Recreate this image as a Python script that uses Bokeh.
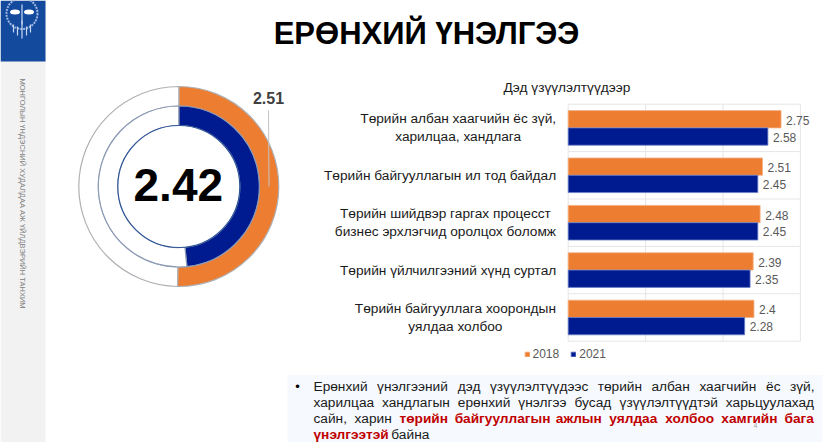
import math
from bokeh.core.properties import value
from bokeh.plotting import figure
from bokeh.models import Range1d, Label, Legend, LegendItem
from bokeh.embed import file_html
from bokeh.resources import INLINE

# ---- data ----
categories = [
    "Төрийн албан хаагчийн ёс зүй,\nхарилцаа, хандлага",
    "Төрийн байгууллагын ил тод байдал",
    "Төрийн шийдвэр гаргах процесст\nбизнес эрхлэгчид оролцох боломж",
    "Төрийн үйлчилгээний хүнд суртал",
    "Төрийн байгууллага хоорондын\nуялдаа холбоо",
]
values_2018 = [2.75, 2.51, 2.48, 2.39, 2.4]
values_2021 = [2.58, 2.45, 2.45, 2.35, 2.28]
series_names = ["2018", "2021"]
x_ticks = [0, 1, 2, 3]
overall_2018 = 2.51
overall_2021 = 2.42
scale_max = 5

title_text = "ЕРӨНХИЙ ҮНЭЛГЭЭ"
subtitle_text = "Дэд үзүүлэлтүүдээр"
sidebar_text = "МОНГОЛЫН ҮНДЭСНИЙ ХУДАЛДАА АЖ ҮЙЛДВЭРИЙН ТАНХИМ"
lines = [
    [("Ерөнхий", 0), ("үнэлгээний", 0), ("дэд", 0), ("үзүүлэлтүүдээс", 0),
     ("төрийн", 0), ("албан", 0), ("хаагчийн", 0), ("ёс", 0), ("зүй,", 0)],
    [("харилцаа", 0), ("хандлагын", 0), ("ерөнхий", 0), ("үнэлгээ", 0),
     ("бусад", 0), ("үзүүлэлтүүдтэй", 0), ("харьцуулахад", 0)],
    [("сайн,", 0), ("харин", 0), ("төрийн", 1), ("байгууллагын", 1), ("ажлын", 1),
     ("уялдаа", 1), ("холбоо", 1), ("хамгийн", 1), ("бага", 1)],
    [("үнэлгээтэй", 1), ("байна", 0)],
]

# ---- layout (reference pixel frame) ----
W, H = 825, 442
L, T = 0, 0
R, B = L + W, T + H
FONT = "Liberation Sans"
ORANGE, NAVY = "#ED7D31", "#001B8F"

# approximate glyph advances (1/1000 em), used only to justify the commentary
ADV = dict(а=556, б=573, в=531, г=365, д=583, е=556, ё=556, ж=731, з=456, и=558, й=558, к=437, л=573, м=694, н=557,
           о=556, п=547, р=556, с=500, т=458, у=500, х=500, ц=568, ч=531, ш=796, ы=713, ь=521, э=510, я=531,
           ө=556, ү=500, Е=667)
ADV[","] = 278
TEXT_PX = 13.7
def word_width(word, bold):
    w = sum(ADV.get(c, 556) for c in word) * TEXT_PX / 1000
    return w * (1.07 if bold else 1.0)

p = figure(width=W, height=H, output_backend="svg", toolbar_location=None,
           x_range=Range1d(L, R), y_range=Range1d(B, T), min_border=0,
           outline_line_color=None, background_fill_color="white")
p.axis.visible = False
p.grid.visible = False

# chart scales that share the single frame
bar_x0, px_per_unit = 567.7, 77.4
row_y0, px_per_row = 127.4, 47.4
p.extra_x_ranges["val"] = Range1d((L - bar_x0) / px_per_unit, (R - bar_x0) / px_per_unit)
p.extra_y_ranges["row"] = Range1d((B - row_y0) / px_per_row, (T - row_y0) / px_per_row)
cx, cy = 178.3, 186.0
p.extra_x_ranges["dx"] = Range1d(L - cx, R - cx)
p.extra_y_ranges["dy"] = Range1d(cy - B, cy - T)

# slide furniture
p.quad(left=[0], right=[45], top=[0], bottom=[442], fill_color="#F2F2F2", line_color=None)
p.quad(left=[0], right=[45], top=[0], bottom=[61], fill_color="#134A9E", line_color=None)
p.quad(left=[287], right=[822], top=[374.5], bottom=[442], fill_color="#F6F9FE", line_color=None)

# logo sketch
p.circle(x=[21.5], y=[13], radius=15.5, fill_color=None, line_color="#9DB7E0", line_width=2, line_dash="2 1")
p.ellipse(x=[14.5, 28.5], y=[11.5, 11.5], width=[10, 10], height=[5, 5], fill_color="white", line_color=None)
p.segment(x0=[21.5, 13, 17, 21.5, 26, 30], y0=[4, 24, 26, 20, 26, 24], x1=[21.5, 13, 17, 21.5, 26, 30],
          y1=[24, 32, 35, 38, 35, 32], line_color="#C8D8F0", line_width=1.2)
p.add_layout(Label(x=22, y=78, text=sidebar_text, angle=-math.pi / 2, text_font=FONT, text_font_size="7.5px",
                   text_color="#808080", text_align="left", text_baseline="middle"))

# title and subtitle
p.add_layout(Label(x=426, y=33, text=title_text, text_font=FONT, text_font_size="31px", text_font_style="bold",
                   text_color="black", text_align="center", text_baseline="middle"))
p.add_layout(Label(x=566.5, y=87, text=subtitle_text, text_font=FONT, text_font_size="13.7px",
                   text_color="#1a1a1a", text_align="center", text_baseline="middle"))

# donut
def wedges(val, r0, r1, color, line):
    a0 = math.pi / 2
    a1 = a0 - 2 * math.pi * val / scale_max
    p.annular_wedge(x=[0, 0], y=[0, 0], inner_radius=r0, outer_radius=r1,
                    start_angle=[a1, a0], end_angle=[a0, a1], direction="anticlock",
                    fill_color=[color, "white"], line_color=line, line_width=1.2,
                    x_range_name="dx", y_range_name="dy")

wedges(overall_2018, 80.5, 100, ORANGE, "#AEB0B4")
wedges(overall_2021, 61, 80.5, NAVY, "#8A99B4")
p.circle(x=[0], y=[0], radius=61, fill_color="white", line_color="#2F5597", line_width=1.2,
         x_range_name="dx", y_range_name="dy")
p.segment(x0=[268], y0=[110], x1=[268.5], y1=[186], line_color="#C4C4C4", line_width=1)
p.add_layout(Label(x=268, y=97, text=str(overall_2018), text_font=FONT, text_font_size="16px", text_font_style="bold",
                   text_color="#404040", text_align="center", text_baseline="middle"))
p.add_layout(Label(x=177.8, y=184.5, text=str(overall_2021), text_font=FONT, text_font_size="46px", text_font_style="bold",
                   text_color="black", text_align="center", text_baseline="middle"))

# bar chart rules
n = len(categories)
rows = list(range(n))
grid_color = "#E6E6E6"
p.segment(x0=x_ticks, x1=x_ticks, y0=[-0.5] * len(x_ticks), y1=[n - 0.5] * len(x_ticks), line_color=grid_color,
          x_range_name="val", y_range_name="row")
edges = [r - 0.5 for r in rows] + [n - 0.5]
p.segment(x0=[x_ticks[0]] * len(edges), x1=[x_ticks[-1]] * len(edges), y0=edges, y1=edges, line_color=grid_color,
          x_range_name="val", y_range_name="row")

# bars
bar_h = 0.365
r18 = p.hbar(y=[r - bar_h / 2 for r in rows], right=values_2018, left=0, height=bar_h, fill_color=ORANGE,
             line_color="#F4B183", line_width=0.8, x_range_name="val", y_range_name="row")
r21 = p.hbar(y=[r + bar_h / 2 for r in rows], right=values_2021, left=0, height=bar_h, fill_color=NAVY,
             line_color="#6C7FC8", line_width=0.8, x_range_name="val", y_range_name="row")
p.text(x=values_2018, y=[r - bar_h / 2 for r in rows], text=[str(v) for v in values_2018], x_offset=5, y_offset=1,
       text_font=value(FONT), text_font_size="12px", text_color="#595959", text_baseline="middle",
       x_range_name="val", y_range_name="row")
p.text(x=values_2021, y=[r + bar_h / 2 for r in rows], text=[str(v) for v in values_2021], x_offset=5, y_offset=0.5,
       text_font=value(FONT), text_font_size="12px", text_color="#595959", text_baseline="middle",
       x_range_name="val", y_range_name="row")

# category labels: centred blocks left of the axis
label_offsets = [-110, -128.1, -122.8, -120.1, -112.8]
p.text(x=[0] * n, y=rows, text=categories, x_offset=label_offsets, text_font=value(FONT), text_font_size="13.7px",
       text_color="#1a1a1a", text_align="center", text_baseline="middle", text_line_height=1.2,
       x_range_name="val", y_range_name="row")

legend = Legend(items=[LegendItem(label=series_names[0], renderers=[r18]),
                       LegendItem(label=series_names[1], renderers=[r21])],
                orientation="horizontal", location=(523.5, 81.5), background_fill_alpha=0, border_line_color=None,
                glyph_width=6, glyph_height=6, label_text_font=FONT, label_text_font_size="12px",
                label_text_color="#595959", label_standoff=3, spacing=11, padding=4, margin=0)
p.add_layout(legend)

# commentary: justified between the two text margins, last line set ragged
p.add_layout(Label(x=297, y=386, text="•", text_font=FONT, text_font_size="13px", text_color="black",
                   text_align="center", text_baseline="middle"))
text_left, text_right = 313, 814
line_ys = [386, 402, 418, 434]
for i, (words, y) in enumerate(zip(lines, line_ys)):
    widths = [word_width(w, b) for w, b in words]
    gap = 3.8 if i == len(lines) - 1 else (text_right - text_left - sum(widths)) / (len(words) - 1)
    x = text_left
    for (word, bold), w in zip(words, widths):
        p.add_layout(Label(x=x, y=y, text=word, text_font=FONT, text_font_size=f"{TEXT_PX}px",
                           text_font_style="bold" if bold else "normal",
                           text_color="#C00000" if bold else "#1a1a1a",
                           text_align="left", text_baseline="middle"))
        x += w + gap
p.add_layout(Label(x=755, y=425, text="4", text_font=FONT, text_font_size="7px", text_color="#A6A6A6",
                   text_align="center", text_baseline="middle"))

open("out.html", "w").write(file_html(p, INLINE))
